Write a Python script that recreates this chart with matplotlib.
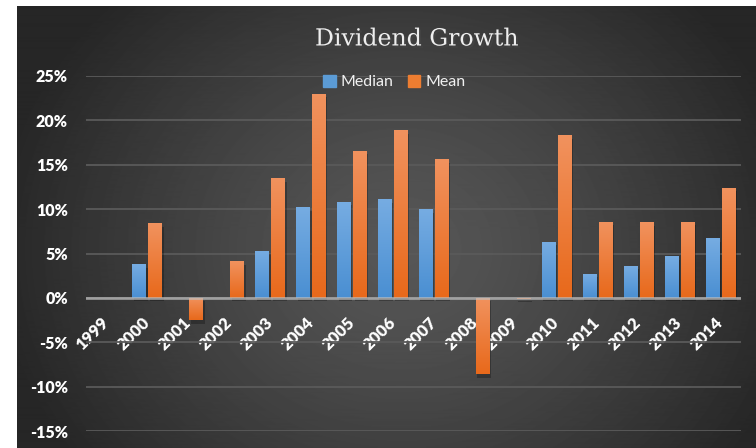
import numpy as np
import matplotlib.pyplot as plt
import matplotlib.patheffects as pe
from matplotlib.colors import LinearSegmentedColormap
from matplotlib.patches import Patch
from matplotlib.ticker import FuncFormatter

# ---------------------------------------------------------
# Data (dividend growth, %)
# ---------------------------------------------------------
years = ['1999', '2000', '2001', '2002', '2003', '2004', '2005', '2006',
         '2007', '2008', '2009', '2010', '2011', '2012', '2013', '2014']
median = [0, 3.8, 0, 0, 5.3, 10.2, 10.8, 11.1, 10.0, 0, 0, 6.3, 2.7, 3.6, 4.7, 6.7]
mean = [0, 8.4, -2.5, 4.1, 13.5, 23.0, 16.6, 18.9, 15.6, -8.6, -0.1, 18.3, 8.6, 8.5, 8.6, 12.4]
y_ticks = [-15, -10, -5, 0, 5, 10, 15, 20, 25]

blue_top, blue_bot = '#76ace2', '#4a8fd2'
orange_top, orange_bot = '#f1925e', '#e8691b'

fig = plt.figure(figsize=(7.56, 4.48), dpi=100)
fig.patch.set_facecolor('white')

# ---------------------------------------------------------
# Dark panel with radial gradient
# ---------------------------------------------------------
bg = fig.add_axes([17 / 756, 0, 1 - 17 / 756, 1 - 6 / 448], zorder=-10)
h, w = 442, 739
yy, xx = np.mgrid[0:h, 0:w]
cx, cy = w * 0.52, h * 0.55
r = np.sqrt(((xx - cx) / (w * 0.55)) ** 2 + ((yy - cy) / (h * 0.8)) ** 2)
shade = np.clip(0.34 - 0.19 * r ** 1.3, 0.15, 0.34)
bg.imshow(shade, cmap='gray', vmin=0, vmax=1, aspect='auto', extent=[0, 1, 0, 1])
bg.axis('off')

# ---------------------------------------------------------
# Bars
# ---------------------------------------------------------
ax = fig.add_axes([86 / 756, 17 / 448, 655 / 756, 355 / 448])
ax.set_facecolor('none')

x = np.arange(len(years))
shadow = [pe.SimplePatchShadow(offset=(1, -2.5), shadow_rgbFace='black', alpha=0.25), pe.Normal()]
b1 = ax.bar(x - 0.195, median, 0.34, color=blue_bot, zorder=2, path_effects=shadow)
b2 = ax.bar(x + 0.195, mean, 0.34, color=orange_bot, zorder=2, path_effects=shadow)


def shade_bars(bars, c_top, c_bot):
    cmap = LinearSegmentedColormap.from_list('g', [c_bot, c_top])
    grad = np.linspace(0, 1, 64).reshape(-1, 1)
    for b in bars:
        x0, y0, bw, bh = b.get_x(), b.get_y(), b.get_width(), b.get_height()
        lo, hi = min(y0, y0 + bh), max(y0, y0 + bh)
        if hi - lo == 0:
            continue
        im = ax.imshow(grad, cmap=cmap, aspect='auto', origin='lower',
                       extent=[x0, x0 + bw, lo, hi], zorder=2.1)
        im.set_clip_path(b)


shade_bars(b1, blue_top, blue_bot)
shade_bars(b2, orange_top, orange_bot)

ax.axhline(0, color='#c0c0c0', lw=2, alpha=0.7, zorder=3)

ax.set_xlim(-0.5, len(years) - 0.5)
ax.set_ylim(-15, 25)
ax.set_yticks(y_ticks)
ax.yaxis.set_major_formatter(FuncFormatter(lambda v, p: f'{int(v)}%'))
ax.yaxis.grid(True, color='#5a5a5a', lw=1.3)
ax.set_axisbelow(True)

for s in ax.spines.values():
    s.set_visible(False)
ax.spines['bottom'].set_position(('data', 0))

ax.set_xticks(x)
ax.set_xticklabels(years)
ax.tick_params(axis='both', length=0, colors='white')
ax.tick_params(axis='y', pad=13)
ax.tick_params(axis='x', pad=16)
for lab in ax.get_yticklabels():
    lab.set_fontfamily('Lato')
    lab.set_fontweight('heavy')
    lab.set_fontsize(11.5)
for lab in ax.get_xticklabels():
    lab.set_fontfamily('Lato')
    lab.set_fontweight('heavy')
    lab.set_fontsize(12)
    lab.set_rotation(45)
    lab.set_rotation_mode('anchor')
    lab.set_ha('right')
    lab.set_va('center')

# ---------------------------------------------------------
# Title & legend
# ---------------------------------------------------------
fig.text(417 / 756, 1 - 39 / 448, 'Dividend Growth', fontfamily='DejaVu Serif',
         fontsize=17, color='#eeeeee', ha='center', va='center',
         path_effects=[pe.SimplePatchShadow(offset=(1.5, -1.5), alpha=0.6), pe.Normal()])

handles = [Patch(color='#5b9bd5'), Patch(color='#ed7d31')]
fig.legend(handles, ['Median', 'Mean'], loc='center', bbox_to_anchor=(394 / 756, 1 - 82 / 448),
           ncol=2, frameon=False, handlelength=0.8, handleheight=0.8, columnspacing=0.9,
           handletextpad=0.3, labelcolor='#f0f0f0', prop={'family': 'Lato', 'size': 11.5})

fig.savefig('out.png', dpi=100)
